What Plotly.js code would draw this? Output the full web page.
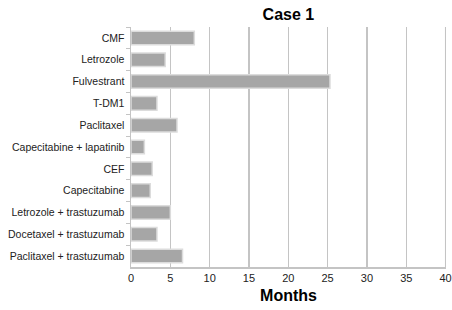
<!DOCTYPE html>
<html>
<head>
<script src="https://cdn.plot.ly/plotly-3.0.1.min.js"></script>
<style>html,body{margin:0;padding:0;background:#fff;}#chart{width:452px;height:310px;}</style>
</head>
<body>
<div id="chart"></div>
<script>
var categories = ["CMF", "Letrozole", "Fulvestrant", "T-DM1", "Paclitaxel", "Capecitabine + lapatinib", "CEF", "Capecitabine", "Letrozole + trastuzumab", "Docetaxel + trastuzumab", "Paclitaxel + trastuzumab"];
var months = [8.05, 4.35, 25.3, 3.3, 5.85, 1.7, 2.7, 2.45, 5.0, 3.3, 6.55];
var xTicks = [0, 5, 10, 15, 20, 25, 30, 35, 40];

var trace = {
  type: "bar",
  orientation: "h",
  y: categories,
  x: months,
  width: 0.62,
  marker: {color: "#a6a6a6", line: {color: "#dcdcdc", width: 1.5}},
  hoverinfo: "none"
};

var xMax = xTicks[xTicks.length - 1];

var layout = {
  width: 452, height: 310,
  margin: {l: 131, r: 6, t: 27, b: 43},
  paper_bgcolor: "#fff", plot_bgcolor: "#fff",
  showlegend: false,
  title: {text: "<b>Case 1</b>", font: {family: "Liberation Sans, Arial, sans-serif", size: 16, color: "#000"}, x: 0.638, xanchor: "center", y: 0.955, yanchor: "middle"},
  font: {family: "Liberation Sans, Arial, sans-serif", size: 10.5, color: "#222"},
  xaxis: {
    range: [0, xMax + 0.05], tickvals: xTicks, ticktext: xTicks.map(String),
    showgrid: true, gridcolor: "#c4c4c4", gridwidth: 1.3,
    zeroline: false, showline: true, linecolor: "#c4c4c4", linewidth: 1.5,
    ticks: "", tickfont: {size: 11, color: "#222"},
    title: {text: "<b>Months</b>", font: {size: 16, color: "#000"}, standoff: 7},
    fixedrange: true
  },
  yaxis: {
    type: "category", autorange: "reversed",
    showgrid: false, zeroline: false,
    showline: true, linecolor: "#c4c4c4", linewidth: 1.5,
    ticks: "outside", tickson: "boundaries", ticklen: 4, tickcolor: "#c4c4c4",
    ticklabelstandoff: 3,
    tickfont: {size: 10.5, color: "#222"},
    fixedrange: true
  },
  shapes: [{
    type: "line", xref: "x", yref: "paper", x0: xMax, x1: xMax, y0: 0, y1: 1,
    line: {color: "#c4c4c4", width: 1.3}, layer: "below"
  }]
};

Plotly.newPlot("chart", [trace], layout, {displayModeBar: false, staticPlot: true});
</script>
</body>
</html>
